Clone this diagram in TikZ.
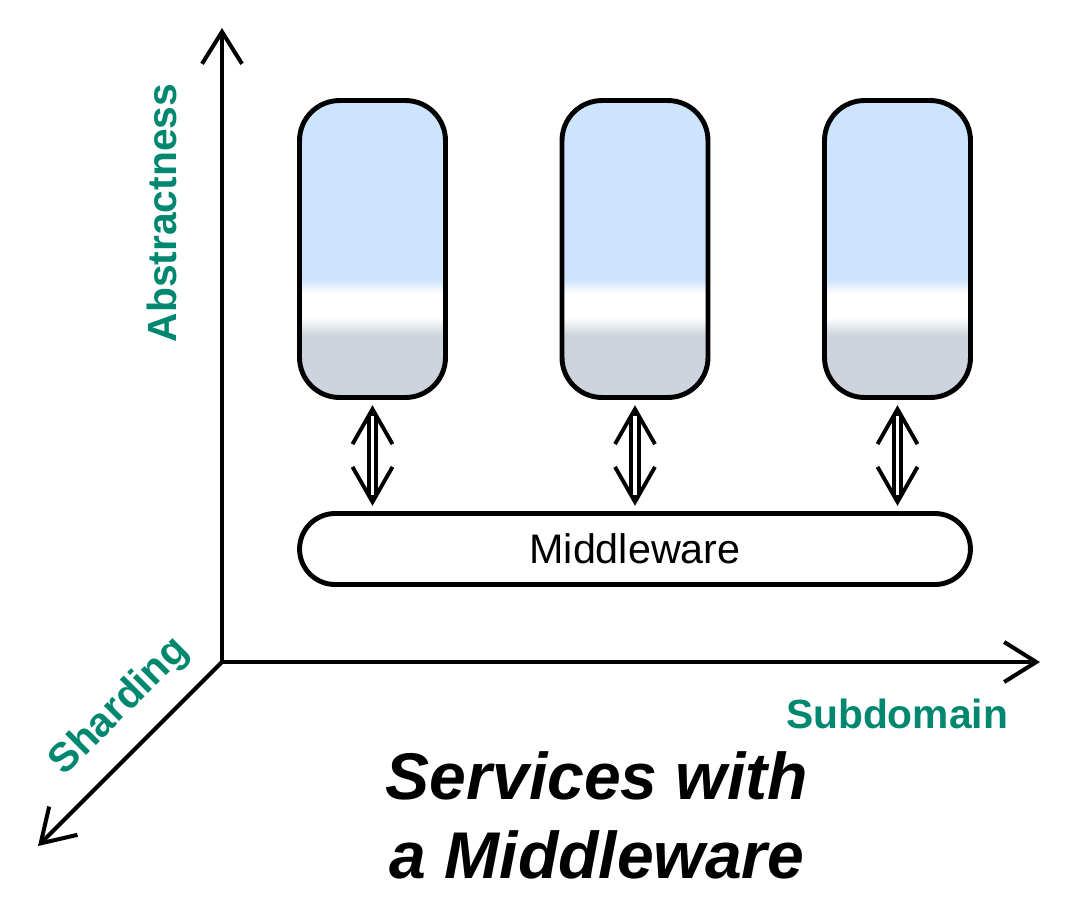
\documentclass[tikz,border=0pt]{standalone}
\usepackage{fontspec}
\setmainfont{Liberation Sans}
\usetikzlibrary{arrows.meta}

\definecolor{axisteal}{HTML}{00876F}
\definecolor{svcblue}{HTML}{CCE4FD}
\definecolor{svcgray}{HTML}{CDD4DD}

\pgfdeclareverticalshading{svcshade}{100bp}{color(0bp)=(svcgray); color(35.5bp)=(svcgray); color(38.5bp)=(white); color(42.5bp)=(white); color(45bp)=(svcblue); color(100bp)=(svcblue)}

\begin{document}
\begin{tikzpicture}[x=0.02cm,y=-0.02cm]
\tikzset{ axis/.style={line width=2.3pt, line cap=round, -{Straight Barb[length=0.64cm,width=0.8cm]}},
  svc/.style={draw, line width=2.8pt, rounded corners=0.8cm, minimum width=2.92cm, minimum height=5.94cm, shading=svcshade},
  mwbox/.style={draw, line width=2.8pt, rounded corners=0.71cm, minimum width=13.42cm, minimum height=1.42cm, fill=white, font=\fontsize{23.5pt}{27pt}\selectfont},
  axislabel/.style={text=axisteal, font=\fontsize{23.2pt}{26pt}\selectfont\bfseries},
  dbltip/.style={line width=2.2pt, shorten <=3pt, shorten >=3pt, {Straight Barb[length=0.7cm,width=0.8cm]}-{Straight Barb[length=0.7cm,width=0.8cm]}},
  dblshaft/.style={line width=2.2pt, double=white, double distance=2pt, shorten <=9pt, shorten >=9pt}}
\useasboundingbox (0,0) rectangle (1088,921);

% axes
\coordinate (o) at (222,662);
\coordinate (ytop) at (222,28);
\coordinate (xend) at (1040,662);
\coordinate (zend) at (38,846);
\draw[axis] (o) -- (ytop);
\draw[axis] (o) -- (xend);
\draw[axis] (o) -- (zend);

\node[axislabel, rotate=90] (abs) at (162,213) {Abstractness};
\node[axislabel] (sub) at (897,714) {Subdomain};
\node[axislabel, rotate=45] (shard) at (120,707) {Sharding};

% services and middleware
\node[svc] (s1) at (372.5,249) {};
\node[svc] (s2) at (635,249) {};
\node[svc] (s3) at (897.5,249) {};
\node[mwbox] (mw) at (635,549) {Middleware};

\foreach \s in {s1,s2,s3} {
  \draw[dbltip] (\s.south) -- (\s.south |- mw.north);
  \draw[dblshaft] (\s.south) -- (\s.south |- mw.north);
}

\node[align=center, font=\fontsize{37.6pt}{45pt}\selectfont\bfseries\itshape] (title) at (597,815) {Services with\\a Middleware};
\end{tikzpicture}
\end{document}
